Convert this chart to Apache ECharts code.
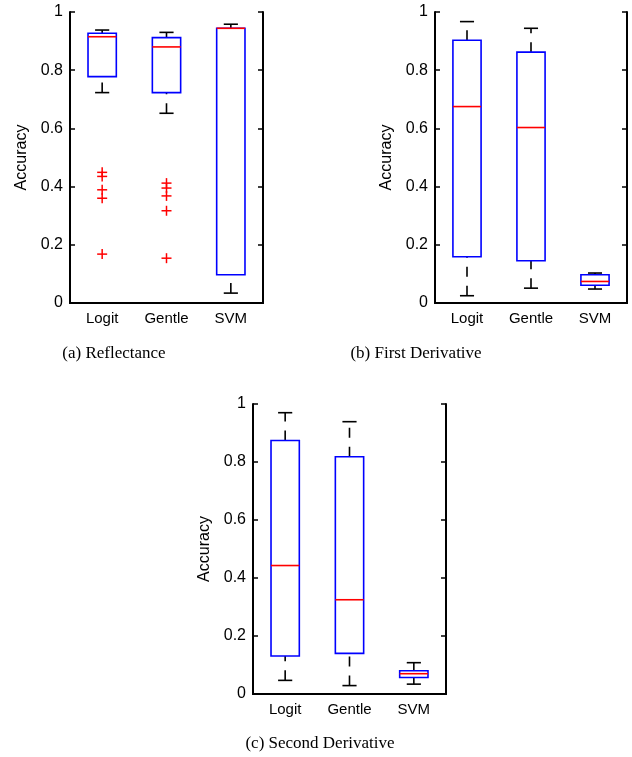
<!DOCTYPE html>
<html>
<head>
<meta charset="utf-8">
<script src="https://cdn.jsdelivr.net/npm/echarts@6/dist/echarts.min.js"></script>
<style>
  html, body { margin: 0; padding: 0; background: #fff; }
  #chart { width: 632px; height: 757px; }
</style>
</head>
<body>
<div id="chart"></div>
<script>
var categories = ['Logit', 'Gentle', 'SVM'];
var yTicks = [0, 0.2, 0.4, 0.6, 0.8, 1];

// each row: [category, lower whisker, Q1, median, Q3, upper whisker]
var reflectanceBoxes = [
  [0, 0.723, 0.778, 0.915, 0.927, 0.938],
  [1, 0.652, 0.723, 0.880, 0.912, 0.930],
  [2, 0.034, 0.097, 0.944, 0.944, 0.958]
];
// [category, value]
var reflectanceOutliers = [
  [0, 0.449], [0, 0.435], [0, 0.389], [0, 0.360], [0, 0.168],
  [1, 0.412], [1, 0.395], [1, 0.368], [1, 0.317], [1, 0.154]
];
var firstDerivBoxes = [
  [0, 0.025, 0.159, 0.675, 0.903, 0.967],
  [1, 0.051, 0.145, 0.603, 0.862, 0.944],
  [2, 0.048, 0.061, 0.074, 0.097, 0.103]
];
var secondDerivBoxes = [
  [0, 0.047, 0.131, 0.443, 0.874, 0.970],
  [1, 0.029, 0.140, 0.325, 0.818, 0.939],
  [2, 0.034, 0.057, 0.070, 0.080, 0.108]
];

var captions = ['(a) Reflectance', '(b) First Derivative', '(c) Second Derivative'];

var grids = [
  { left: 70, top: 12, width: 193, height: 291 },
  { left: 435, top: 12, width: 192, height: 291 },
  { left: 253, top: 404, width: 193, height: 290 }
];

var tickFont = 'Liberation Sans';

function renderBox(params, api) {
  var c = api.value(0);
  var lo = api.coord([c, api.value(1)]);
  var q1 = api.coord([c, api.value(2)]);
  var med = api.coord([c, api.value(3)]);
  var q3 = api.coord([c, api.value(4)]);
  var hi = api.coord([c, api.value(5)]);
  var band = api.size([1, 0])[0];
  var hw = band * 0.22, cw = band * 0.11;
  var x = lo[0];
  var dash = { stroke: '#000', lineWidth: 1.6, lineDash: [10, 9] };
  var solid = { stroke: '#000', lineWidth: 1.6 };
  return {
    type: 'group',
    children: [
      { type: 'line', shape: { x1: x, y1: q3[1], x2: x, y2: hi[1] }, style: dash },
      { type: 'line', shape: { x1: x, y1: lo[1], x2: x, y2: q1[1] }, style: dash },
      { type: 'line', shape: { x1: x - cw, y1: hi[1], x2: x + cw, y2: hi[1] }, style: solid },
      { type: 'line', shape: { x1: x - cw, y1: lo[1], x2: x + cw, y2: lo[1] }, style: solid },
      { type: 'rect', shape: { x: x - hw, y: q3[1], width: 2 * hw, height: q1[1] - q3[1] },
        style: { fill: 'none', stroke: '#0000ff', lineWidth: 1.6 } },
      { type: 'line', shape: { x1: x - hw, y1: med[1], x2: x + hw, y2: med[1] },
        style: { stroke: '#ff0000', lineWidth: 1.6 } }
    ]
  };
}

function renderPlus(params, api) {
  var p = api.coord([api.value(0), api.value(1)]);
  var s = 5;
  var st = { stroke: '#ff0000', lineWidth: 1.5 };
  return {
    type: 'group',
    children: [
      { type: 'line', shape: { x1: p[0] - s, y1: p[1], x2: p[0] + s, y2: p[1] }, style: st },
      { type: 'line', shape: { x1: p[0], y1: p[1] - s, x2: p[0], y2: p[1] + s }, style: st }
    ]
  };
}

var xAxes = [], yAxes = [], series = [];
var boxSets = [reflectanceBoxes, firstDerivBoxes, secondDerivBoxes];

grids.forEach(function (g, i) {
  // bottom axis with labels
  xAxes.push({
    type: 'category', gridIndex: i, data: categories, position: 'bottom',
    axisLine: { lineStyle: { color: '#000', width: 2 } },
    axisTick: { show: false },
    axisLabel: { color: '#000', fontFamily: tickFont, fontSize: 15, margin: 8 }
  });
  // top frame
  xAxes.push({
    type: 'category', gridIndex: i, data: categories, position: 'top',
    axisLine: { lineStyle: { color: '#000', width: 2 } },
    axisTick: { show: false }, axisLabel: { show: false }
  });
  yAxes.push({
    type: 'value', gridIndex: i, min: 0, max: 1, interval: 0.2, position: 'left',
    name: 'Accuracy', nameLocation: 'middle', nameGap: 40,
    nameTextStyle: { color: '#000', fontFamily: tickFont, fontSize: 16 },
    axisLine: { show: true, lineStyle: { color: '#000', width: 2 } },
    axisTick: { show: true, inside: true, length: 5, lineStyle: { color: '#000', width: 1.5 } },
    axisLabel: { color: '#000', fontFamily: tickFont, fontSize: 16, margin: 7,
      formatter: function (v) { return String(+v.toFixed(1)); } },
    splitLine: { show: false }
  });
  yAxes.push({
    type: 'value', gridIndex: i, min: 0, max: 1, interval: 0.2, position: 'right',
    axisLine: { show: true, lineStyle: { color: '#000', width: 2 } },
    axisTick: { show: true, inside: true, length: 5, lineStyle: { color: '#000', width: 1.5 } },
    axisLabel: { show: false },
    splitLine: { show: false }
  });
  series.push({
    type: 'custom', xAxisIndex: i * 2, yAxisIndex: i * 2,
    renderItem: renderBox,
    encode: { x: 0, y: [1, 2, 3, 4, 5] },
    data: boxSets[i], silent: true
  });
});

series.push({
  type: 'custom', xAxisIndex: 0, yAxisIndex: 0,
  renderItem: renderPlus,
  encode: { x: 0, y: 1 },
  data: reflectanceOutliers, silent: true
});

var capPos = [[114, 354], [416, 354], [320, 744]];
var graphics = captions.map(function (t, i) {
  return {
    type: 'text', x: capPos[i][0], y: capPos[i][1],
    style: { text: t, fill: '#000', font: '17px "Liberation Serif"',
      textAlign: 'center', textVerticalAlign: 'middle' }
  };
});

var myChart = echarts.init(document.getElementById('chart'), null, { renderer: 'canvas' });
myChart.setOption({
  animation: false,
  grid: grids,
  xAxis: xAxes,
  yAxis: yAxes,
  series: series,
  graphic: graphics
});
</script>
</body>
</html>
